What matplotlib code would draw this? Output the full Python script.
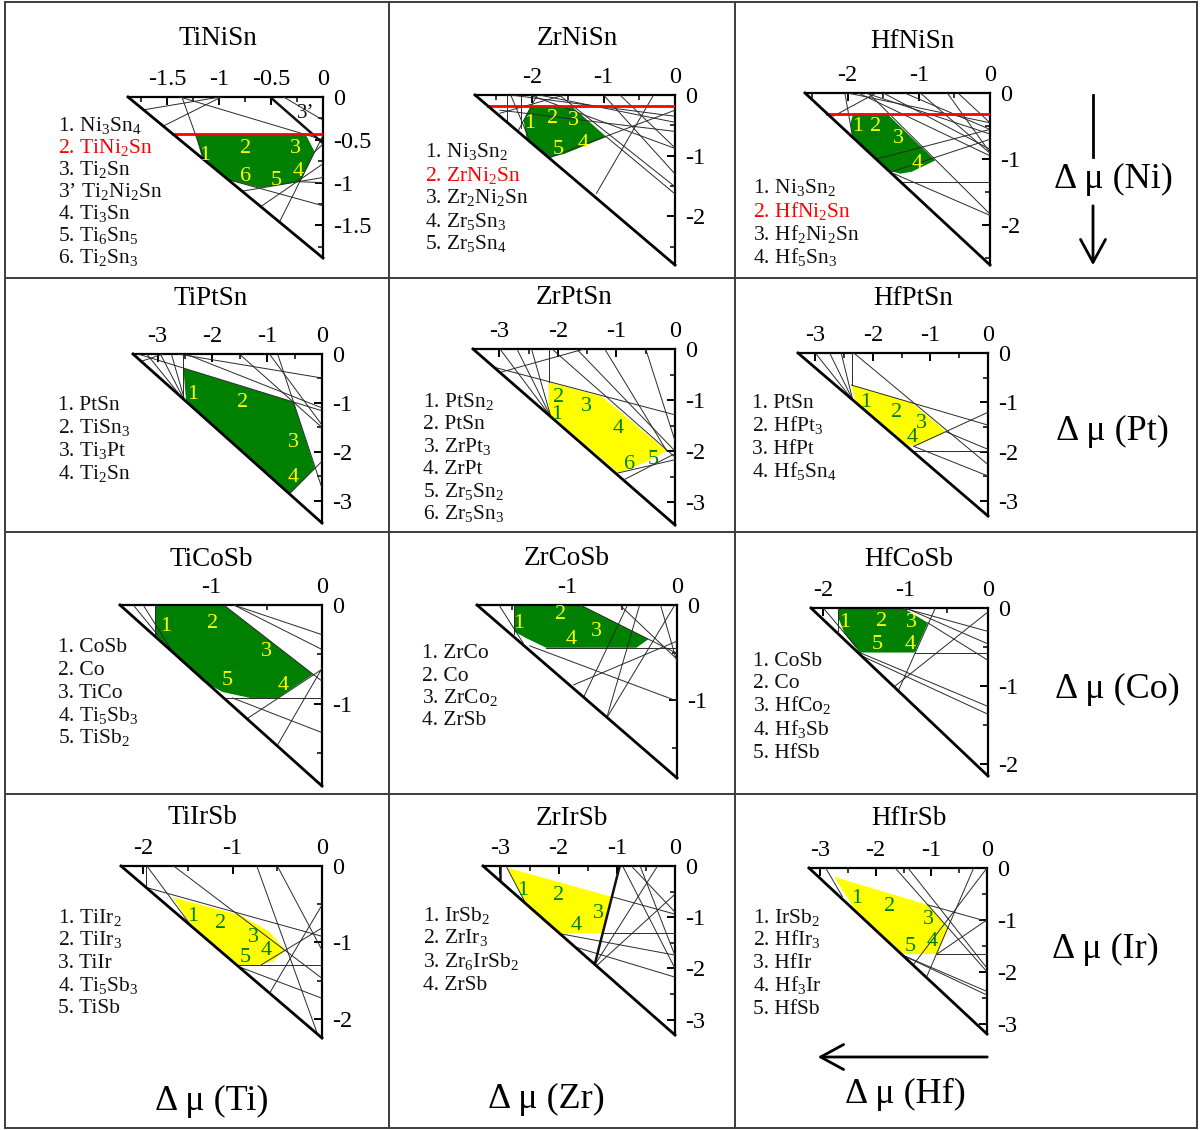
import matplotlib
matplotlib.use("Agg")
import matplotlib.pyplot as plt
from matplotlib.patches import Polygon, FancyArrowPatch, Rectangle, ArrowStyle
from matplotlib.lines import Line2D
from matplotlib.ticker import MultipleLocator, FuncFormatter

plt.rcParams.update({
    "font.family": ["Liberation Serif", "DejaVu Serif"],
    "mathtext.fontset": "custom",
    "mathtext.rm": "Liberation Serif",
    "mathtext.it": "Liberation Serif:italic",
    "mathtext.bf": "Liberation Serif:bold",
    "axes.unicode_minus": False,
})

# ---------------------------------------------------------------- data
compounds = ["TiNiSn", "ZrNiSn", "HfNiSn",
             "TiPtSn", "ZrPtSn", "HfPtSn",
             "TiCoSb", "ZrCoSb", "HfCoSb",
             "TiIrSb", "ZrIrSb", "HfIrSb"]

# |formation enthalpy| (eV): extent of each chemical-potential triangle
enthalpy = [1.88, 2.80, 2.60, 3.45, 3.45, 3.30, 1.83, 1.82, 2.15, 2.25, 3.30, 3.20]
major_step = [0.5, 1, 1, 1, 1, 1, 1, 1, 1, 1, 1, 1]
minor_step = [0.25, 0.5, 0.5, 0.5, 0.5, 0.5, 0.5, 0.5, 0.5, 0.5, 0.5, 0.5]

# stability region of the half-Heusler phase (Δμ_X, Δμ_Y vertices)
stable_x = [
    [-1.23, -0.17, -0.08, -0.22, -0.61, -0.90, -1.16],
    [-2.01, -1.45, -0.96, -1.55, -1.76, -2.08, -2.12],
    [-1.92, -1.45, -0.77, -1.10, -1.26, -1.40, -1.94, -1.96],
    [-2.53, -0.52, -0.13, -0.58, -2.48],
    [-2.16, -1.25, -0.14, -0.50, -0.97, -2.10, -2.16],
    [-2.37, -1.32, -0.72, -1.18, -1.40, -2.30],
    [-1.51, -0.89, -0.08, -0.40, -0.65, -0.90, -1.08, -1.29, -1.51],
    [-1.48, -0.88, -0.26, -0.37, -1.19, -1.37, -1.48],
    [-1.82, -1.03, -0.73, -0.89, -1.56, -1.74, -1.82],
    [-1.67, -0.92, -0.60, -0.41, -0.55, -0.75, -0.93, -1.44],
    [-2.89, -1.09, -1.23, -2.03, -2.52],
    [-2.75, -1.07, -0.70, -0.90, -1.56, -2.37],
]
stable_y = [
    [-0.43, -0.43, -0.64, -0.99, -1.06, -0.97, -0.74],
    [-0.18, -0.18, -0.69, -0.97, -1.03, -0.70, -0.42],
    [-0.31, -0.31, -1.02, -1.19, -1.22, -1.18, -0.64, -0.45],
    [-0.29, -0.98, -2.33, -2.84, -0.97],
    [-0.65, -0.93, -2.00, -2.22, -2.43, -1.32, -1.25],
    [-0.65, -1.01, -1.60, -1.85, -1.88, -0.98],
    [0.00, 0.00, -0.70, -0.94, -0.94, -0.88, -0.77, -0.55, -0.30],
    [0.00, 0.00, -0.36, -0.45, -0.45, -0.35, -0.28],
    [0.00, 0.00, -0.19, -0.57, -0.57, -0.33, -0.12],
    [-0.41, -0.64, -0.85, -1.10, -1.25, -1.30, -1.30, -0.82],
    [-0.03, -0.60, -1.31, -1.31, -0.83],
    [-0.17, -0.71, -1.16, -1.66, -1.66, -0.81],
]

# competing-phase boundaries (x0, y0, x1, y1)
boundaries = [
    [(-1.36, 0, -1.14, -0.74), (-1.54, -0.34, -0.98, 0), (-1.38, 0, 0, -0.50),
     (-0.38, 0, 0, -0.27), (-0.90, -0.97, 0, -1.27), (-0.78, -1.10, 0, -0.94),
     (-0.42, -1.46, 0, -0.45), (-0.60, -1.28, 0, -0.78), (-1.73, -0.15, -0.99, 0),
     (-0.22, -0.99, 0, -1.00), (-0.08, -0.64, 0, -0.55)],
    [(-1.93, 0, -2.20, -0.60), (-1.62, 0, 0, -1.51), (-1.75, -1.03, 0, -0.25),
     (-1.10, -1.62, -0.30, 0), (-0.77, 0, 0, -0.87), (-0.96, -0.69, 0, -1.63),
     (-2.45, -0.25, 0, -0.60), (-2.16, 0, -2.16, -0.55), (-2.45, -0.30, -1.55, 0),
     (-2.03, 0, 0, -0.88), (-2.30, 0, -2.05, -0.70), (-2.30, 0, 0, -0.35),
     (-1.90, 0, 0, -0.45), (-2.35, 0, -2.35, -0.45), (-1.00, 0, 0, -1.30)],
    [(-2.04, 0, -1.94, -0.61), (-1.71, 0, 0, -1.83), (-1.38, -1.19, 0, -0.70),
     (-2.00, 0, 0, -0.45), (-1.75, 0, 0, -0.62), (-1.85, 0, 0, -0.95),
     (-1.50, 0, 0, -0.85), (-0.98, 0, 0, -0.91), (-1.35, -1.22, 0, -1.85),
     (-1.25, -1.34, 0, -1.34), (-2.20, -0.35, -1.60, 0), (-0.45, 0, 0, -0.45),
     (-1.20, 0, 0, -0.55), (-0.60, 0, 0, -0.90), (-1.60, -1.00, 0, -0.55)],
    [(-2.53, 0, -2.53, -0.95), (-3.20, 0, -2.50, -0.97), (-2.95, 0, -2.50, -0.97),
     (-2.75, 0, -2.50, -0.97), (-3.36, 0, 0, -1.16), (-0.81, 0, 0, -2.74),
     (-0.58, -2.84, 0, -2.19), (-2.63, 0, 0, -0.49), (-2.49, 0, 0, -1.10),
     (-1.51, 0, 0, -1.50), (-0.96, 0, 0, -1.45), (-3.30, -0.15, -2.90, 0)],
    [(-2.16, 0, -2.16, -0.65), (-2.99, 0, -2.12, -1.33), (-2.70, 0, -2.12, -1.33),
     (-2.45, 0, -2.12, -1.33), (-3.08, -0.36, 0, -1.29), (-2.99, -0.46, -1.55, 0),
     (-2.10, 0, 0, -2.12), (-1.68, 0, 0, -2.00), (-1.20, 0, -0.14, -2.00),
     (-0.97, -2.43, 0, -2.17), (-0.85, -2.55, 0, -2.05), (-0.50, 0, 0, -1.80)],
    [(-2.37, 0, -2.37, -0.65), (-3.00, 0, -2.35, -0.95), (-2.75, 0, -2.35, -0.95),
     (-2.55, 0, -2.35, -0.95), (-2.37, -0.65, 0, -1.46), (-2.33, 0, 0, -2.26),
     (-1.29, -1.89, 0, -1.20), (-1.29, -1.89, 0, -2.49), (-1.31, -1.99, 0, -1.99),
     (-0.72, -1.60, 0, -1.95)],
    [(-0.87, -0.94, 0, -0.94), (-0.89, 0, 0, -0.77), (-0.80, 0, 0, -0.30),
     (-0.80, 0, 0, -0.45), (-0.68, -1.15, 0, -0.65), (-0.40, -1.41, 0, -0.64),
     (-0.81, -0.94, 0, -1.29), (-1.71, 0, -1.49, -0.30), (-1.62, 0, -1.35, -0.48),
     (-1.51, 0, -1.51, -0.30)],
    [(-1.19, -0.45, 0, -0.45), (-0.88, 0, 0, -0.51), (-0.52, 0, 0, -0.57),
     (-0.02, 0, -0.64, -1.19), (-0.34, 0, -0.64, -1.19), (-0.94, -0.84, 0, -0.38),
     (-1.34, -0.43, 0, -1.01), (-1.48, 0, -1.48, -0.30), (-1.62, 0, -1.40, -0.40),
     (-0.15, 0, 0, -0.60), (-0.45, 0, -0.85, -0.97)],
    [(-0.89, -0.57, 0, -0.57), (0, -0.05, -1.13, -1.00), (-0.64, 0, -1.09, -1.06),
     (-1.03, 0, 0, -0.30), (-1.00, 0, 0, -0.46), (-1.56, -0.57, 0, -1.26),
     (-1.52, -0.62, 0, -1.36), (-1.82, 0, -1.82, -0.30), (-2.00, 0, -1.60, -0.50),
     (-0.73, -0.19, 0, -0.67)],
    [(-0.93, -1.30, 0, -1.30), (-1.97, 0, -1.97, -0.28), (-1.96, 0, -1.44, -0.82),
     (-1.97, -0.28, 0, -0.92), (-1.66, 0, 0, -1.47), (-0.69, -1.30, 0, -0.81),
     (-0.58, -1.65, 0, -0.51), (-0.97, -1.30, 0, -1.73), (-0.73, 0, -0.05, -2.20),
     (-0.50, 0, 0, -1.10)],
    [(-1.23, -1.31, 0, -1.31), (-1.09, -0.60, 0, -0.94), (-2.89, -0.03, -2.52, -0.83),
     (-0.90, 0, 0, -2.00), (-0.60, 0, 0, -1.75), (-0.30, 0, -1.39, -1.95),
     (-2.03, -1.31, 0, -1.74), (-1.72, -1.58, 0, -2.17), (-1.35, -1.95, 0, -0.55),
     (-0.75, 0, 0, -0.90)],
    [(-0.90, -1.66, 0, -1.66), (-1.07, -0.71, 0, -1.03), (-1.65, 0, 0, -2.00),
     (-0.24, 0, -1.09, -2.11), (0, 0, -1.35, -1.90), (-1.56, -1.66, 0, -2.38),
     (-1.56, -1.66, 0, -2.45), (-1.42, 0, 0, -1.93), (-0.90, -1.66, 0, -1.00),
     (-2.90, 0, -2.60, -0.55)],
]
heavy_boundaries = [
    [(-0.51, 0, 0, -0.54)], [], [], [], [], [], [], [], [], [],
    [(-0.95, 0, -1.39, -1.97), (-3.00, 0, -3.00, -0.30)], [],
]

# horizontal Δμ limit set by the ternary Heusler phase (None where absent)
heusler_limit = [-0.43, -0.18, -0.31, None, None, None,
                 None, None, None, None, None, None]

# numbered facet labels inside each region (text, Δμ_X, Δμ_Y)
region_labels = [
    [("1", -1.14, -0.68), ("2", -0.75, -0.60), ("3", -0.27, -0.60),
     ("4", -0.24, -0.87), ("5", -0.45, -0.97), ("6", -0.75, -0.93)],
    [("1", -2.03, -0.47), ("2", -1.72, -0.39), ("3", -1.42, -0.42),
     ("4", -1.29, -0.80), ("5", -1.63, -0.89)],
    [("1", -1.86, -0.51), ("2", -1.61, -0.50), ("3", -1.28, -0.69), ("4", -1.03, -1.06)],
    [("1", -2.36, -0.83), ("2", -1.45, -0.98), ("3", -0.53, -1.80), ("4", -0.52, -2.53)],
    [("2", -1.99, -0.96), ("1", -2.02, -1.29), ("3", -1.51, -1.13),
     ("4", -0.97, -1.55), ("5", -0.37, -2.17), ("6", -0.77, -2.27)],
    [("1", -2.12, -1.01), ("2", -1.59, -1.21), ("3", -1.16, -1.42), ("4", -1.32, -1.72)],
    [("1", -1.42, -0.22), ("2", -0.99, -0.19), ("3", -0.50, -0.47),
     ("4", -0.35, -0.81), ("5", -0.86, -0.76)],
    [("1", -1.44, -0.19), ("2", -1.06, -0.10), ("3", -0.73, -0.28), ("4", -0.96, -0.36)],
    [("1", -1.74, -0.18), ("2", -1.29, -0.17), ("3", -0.93, -0.19),
     ("4", -0.95, -0.47), ("5", -1.35, -0.47)],
    [("1", -1.45, -0.66), ("2", -1.14, -0.75), ("3", -0.77, -0.94),
     ("4", -0.62, -1.11), ("5", -0.86, -1.20)],
    [("1", -2.61, -0.47), ("2", -2.00, -0.57), ("3", -1.32, -0.92), ("4", -1.69, -1.17)],
    [("1", -2.34, -0.58), ("2", -1.76, -0.75), ("3", -1.06, -1.00),
     ("4", -0.99, -1.42), ("5", -1.38, -1.52)],
]
extra_labels = [[("3\u2019", -0.17, -0.19)]] + [[] for _ in range(11)]

# competing phases listed beside each panel
phase_lists = [
    ["1. Ni$_3$Sn$_4$", "2. TiNi$_2$Sn", "3. Ti$_2$Sn", "3\u2019 Ti$_2$Ni$_2$Sn",
     "4. Ti$_3$Sn", "5. Ti$_6$Sn$_5$", "6. Ti$_2$Sn$_3$"],
    ["1. Ni$_3$Sn$_2$", "2. ZrNi$_2$Sn", "3. Zr$_2$Ni$_2$Sn", "4. Zr$_5$Sn$_3$",
     "5. Zr$_5$Sn$_4$"],
    ["1. Ni$_3$Sn$_2$", "2. HfNi$_2$Sn", "3. Hf$_2$Ni$_2$Sn", "4. Hf$_5$Sn$_3$"],
    ["1. PtSn", "2. TiSn$_3$", "3. Ti$_3$Pt", "4. Ti$_2$Sn"],
    ["1. PtSn$_2$", "2. PtSn", "3. ZrPt$_3$", "4. ZrPt", "5. Zr$_5$Sn$_2$",
     "6. Zr$_5$Sn$_3$"],
    ["1. PtSn", "2. HfPt$_3$", "3. HfPt", "4. Hf$_5$Sn$_4$"],
    ["1. CoSb", "2. Co", "3. TiCo", "4. Ti$_5$Sb$_3$", "5. TiSb$_2$"],
    ["1. ZrCo", "2. Co", "3. ZrCo$_2$", "4. ZrSb"],
    ["1. CoSb", "2. Co", "3. HfCo$_2$", "4. Hf$_3$Sb", "5. HfSb"],
    ["1. TiIr$_2$", "2. TiIr$_3$", "3. TiIr", "4. Ti$_5$Sb$_3$", "5. TiSb"],
    ["1. IrSb$_2$", "2. ZrIr$_3$", "3. Zr$_6$IrSb$_2$", "4. ZrSb"],
    ["1. IrSb$_2$", "2. HfIr$_3$", "3. HfIr", "4. Hf$_3$Ir", "5. HfSb"],
]
highlighted_entry = [1, 1, 1, None, None, None, None, None, None, None, None, None]

row_labels = ["\u0394 \u03bc (Ni)", "\u0394 \u03bc (Pt)", "\u0394 \u03bc (Co)", "\u0394 \u03bc (Ir)"]
col_labels = ["\u0394 \u03bc (Ti)", "\u0394 \u03bc (Zr)", "\u0394 \u03bc (Hf)"]

# ---------------------------------------------------------------- layout
FW, FH = 1200, 1130
fig = plt.figure(figsize=(FW / 100, FH / 100), dpi=100)

GREEN, YELLOW = "#008000", "#ffff00"
fills = [GREEN, GREEN, GREEN, GREEN, YELLOW, YELLOW,
         GREEN, GREEN, GREEN, YELLOW, YELLOW, YELLOW]

# axes boxes in pixels: left, right, top, bottom
boxes = [(128, 323, 97, 258), (475, 675, 95, 265), (805, 990, 93, 265),
         (133, 322, 354, 523), (473, 675, 349, 525), (798, 988, 353, 516),
         (120, 322, 605, 786), (477, 677, 605, 778), (811, 988, 608, 776),
         (121, 322, 866, 1038), (483, 675, 866, 1035), (809, 987, 868, 1034)]
title_pos = [(218, 45), (577, 45), (912, 48), (211, 305), (574, 304), (913, 305),
             (211, 566), (567, 565), (909, 566), (202, 824), (572, 825), (909, 825)]
list_pos = [(58, 125, 22.0), (425, 151, 23.0), (753, 187, 23.3),
            (58, 404, 22.7), (423, 400, 22.6), (752, 402, 23.0),
            (58, 646, 22.7), (422, 652, 22.3), (753, 659, 23.0),
            (58, 916, 22.7), (423, 914, 23.0), (753, 916, 23.0)]


def fx(px):
    return px / FW


def fy(py):
    return 1 - py / FH


def tick_fmt(v, _):
    if abs(v) < 1e-9:
        return "0"
    return "%g" % v


for i, name in enumerate(compounds):
    l, r, t, b = boxes[i]
    h = enthalpy[i]
    ax = fig.add_axes([fx(l), fy(b), (r - l) / FW, (b - t) / FH])
    ax.set_xlim(-h, 0)
    ax.set_ylim(-h, 0)
    ax.patch.set_alpha(0)
    for side in ("left", "bottom"):
        ax.spines[side].set_visible(False)
    for side in ("top", "right"):
        ax.spines[side].set_linewidth(1.6)
    ax.xaxis.set_major_locator(MultipleLocator(major_step[i]))
    ax.xaxis.set_minor_locator(MultipleLocator(minor_step[i]))
    ax.yaxis.set_major_locator(MultipleLocator(major_step[i]))
    ax.yaxis.set_minor_locator(MultipleLocator(minor_step[i]))
    ax.xaxis.set_major_formatter(FuncFormatter(tick_fmt))
    ax.yaxis.set_major_formatter(FuncFormatter(tick_fmt))
    ax.tick_params(which="both", direction="in", top=True, right=True,
                   bottom=False, left=False, labeltop=True, labelright=True,
                   labelbottom=False, labelleft=False, labelsize=17.5)
    ax.tick_params(which="major", length=6, width=1.4)
    ax.tick_params(which="minor", length=3.5, width=1.1)
    ax.tick_params(axis="x", pad=5)
    ax.tick_params(axis="y", pad=7)

    tri = Polygon([(-h, 0), (0, 0), (0, -h)], closed=True,
                  transform=ax.transData, fill=False, visible=False)
    ax.add_patch(tri)

    ax.fill(stable_x[i], stable_y[i], color=fills[i], lw=0, zorder=2)

    for x0, y0, x1, y1 in boundaries[i]:
        ln, = ax.plot([x0, x1], [y0, y1], color="#2a2a2a", lw=0.7, zorder=3)
        ln.set_clip_path(tri)
    for x0, y0, x1, y1 in heavy_boundaries[i]:
        ln, = ax.plot([x0, x1], [y0, y1], color="#111111", lw=1.8, zorder=3)
        ln.set_clip_path(tri)

    if heusler_limit[i] is not None:
        yl = heusler_limit[i]
        ax.plot([-h - yl, 0], [yl, yl], color="#ff0000", lw=2.0, zorder=4)

    ax.plot([-h, 0], [0, -h], color="black", lw=2.0, zorder=4, clip_on=False)

    num_color = YELLOW if fills[i] == GREEN else GREEN
    for txt, x, y in region_labels[i]:
        ax.text(x, y, txt, color=num_color, fontsize=16, ha="center",
                va="center", zorder=5)
    for txt, x, y in extra_labels[i]:
        ax.text(x, y, txt, color="#111111", fontsize=15, ha="center",
                va="center", zorder=5)

    tx, ty = title_pos[i]
    fig.text(fx(tx), fy(ty), name, fontsize=19.5, ha="center", va="baseline")

    lx, ly, dy = list_pos[i]
    for k, entry in enumerate(phase_lists[i]):
        color = "#ff0000" if highlighted_entry[i] == k else "#111111"
        fig.text(fx(lx), fy(ly + k * dy + 6.5), entry, fontsize=15.5,
                 ha="left", va="baseline", color=color)

# row / column potential labels
for txt, (x, y) in zip(row_labels, [(1113, 188), (1112, 440), (1117, 698), (1105, 958)]):
    fig.text(fx(x), fy(y), txt, fontsize=26, ha="center", va="baseline")
for txt, (x, y) in zip(col_labels, [(212, 1110), (546, 1108), (905, 1103)]):
    fig.text(fx(x), fy(y), txt, fontsize=26, ha="center", va="baseline")

head = ArrowStyle("->", head_length=0.55, head_width=0.3)
fig.add_artist(Line2D([fx(1093), fx(1093)], [fy(95), fy(157)],
                      transform=fig.transFigure, color="black", lw=2))
fig.add_artist(FancyArrowPatch((fx(1093), fy(203)), (fx(1093), fy(268)),
                               transform=fig.transFigure, arrowstyle=head,
                               mutation_scale=30, lw=2, color="black"))
fig.add_artist(FancyArrowPatch((fx(990), fy(1057)), (fx(815), fy(1057)),
                               transform=fig.transFigure, arrowstyle=head,
                               mutation_scale=30, lw=2, color="black"))

# panel frame
frame_kw = dict(transform=fig.transFigure, color="#3c3c3c", lw=1.4)
for x in (389, 735):
    fig.add_artist(Line2D([fx(x), fx(x)], [fy(2), fy(1128)], **frame_kw))
for y in (278, 532, 794):
    fig.add_artist(Line2D([fx(5), fx(1197)], [fy(y), fy(y)], **frame_kw))
fig.add_artist(Rectangle((fx(5), fy(1128)), (1192) / FW, (1126) / FH,
                         transform=fig.transFigure, fill=False,
                         ec="#3c3c3c", lw=1.4))

fig.savefig("out.png", dpi=100)
